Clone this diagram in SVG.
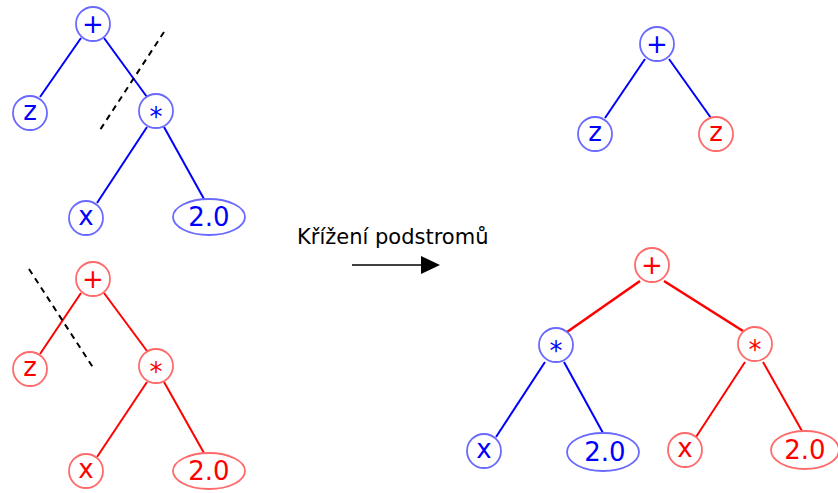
<svg xmlns="http://www.w3.org/2000/svg" width="838" height="493" viewBox="0 0 838 493">
  <style>
    .bn { fill: #ffffff; stroke: #6a6aff; stroke-width: 1.8; }
    .rn { fill: #ffffff; stroke: #ff6a6a; stroke-width: 1.8; }
    .bt { fill: #0000ff; font-family: "DejaVu Sans", Verdana, sans-serif; font-size: 26px; text-anchor: middle; }
    .rt { fill: #ff0000; font-family: "DejaVu Sans", Verdana, sans-serif; font-size: 26px; text-anchor: middle; }
    .be { stroke: #0000ff; stroke-width: 2; fill: none; }
    .re { stroke: #ff0000; stroke-width: 2; fill: none; }
    .cut { stroke: #000000; stroke-width: 2; stroke-dasharray: 6 5; fill: none; }
    .lbl { fill: #000000; font-family: "DejaVu Sans", Verdana, sans-serif; font-size: 21px; }
  </style>

  <g id="connectors">
    <!-- parent tree 1 -->
    <line class="be" x1="81" y1="38" x2="40" y2="97"/>
    <line class="be" x1="104" y1="38" x2="147" y2="97"/>
    <line class="be" x1="147" y1="127" x2="97" y2="203"/>
    <line class="be" x1="164" y1="127" x2="204" y2="199"/>
    <!-- parent tree 2 -->
    <line class="re" x1="81" y1="293" x2="40" y2="354"/>
    <line class="re" x1="104" y1="293" x2="147" y2="351"/>
    <line class="re" x1="147" y1="382" x2="97" y2="457"/>
    <line class="re" x1="164" y1="382" x2="204" y2="453"/>
    <!-- offspring 1 -->
    <line class="be" x1="645" y1="59" x2="605" y2="118"/>
    <line class="be" x1="669" y1="59" x2="711" y2="118"/>
    <!-- offspring 2 -->
    <line class="re" x1="640" y1="281" x2="567" y2="332" style="stroke-width:2.6"/>
    <line class="re" x1="664" y1="281" x2="743" y2="331" style="stroke-width:2.6"/>
    <line class="be" x1="545" y1="362" x2="496" y2="437"/>
    <line class="be" x1="564" y1="362" x2="603" y2="433"/>
    <line class="re" x1="745" y1="362" x2="696" y2="437"/>
    <line class="re" x1="763" y1="362" x2="802" y2="431"/>
    <!-- cut lines -->
    <line class="cut" x1="164" y1="32" x2="98" y2="133"/>
    <line class="cut" x1="29" y1="269" x2="94" y2="369"/>
    <!-- crossover arrow -->
    <line x1="352" y1="265" x2="424" y2="265" stroke="#000000" stroke-width="1.6"/>
    <polygon points="421,256 440,265 421,274" fill="#000000"/>
  </g>

  <text class="lbl" x="297" y="244">Křížení podstromů</text>

  <!-- parent tree 1 (blue) -->
  <g id="p1-plus"><circle class="bn" cx="93" cy="24" r="17"/><text class="bt" x="93" y="33">+</text></g>
  <g id="p1-z"><circle class="bn" cx="30" cy="113" r="17"/><text class="bt" x="30" y="120">z</text></g>
  <g id="p1-mul"><circle class="bn" cx="156" cy="111" r="17"/><text class="bt" x="156" y="126">*</text></g>
  <g id="p1-x"><circle class="bn" cx="86" cy="218" r="17"/><text class="bt" x="86" y="225">x</text></g>
  <g id="p1-num"><ellipse class="bn" cx="209" cy="217" rx="36" ry="18"/><text class="bt" x="209" y="226">2.0</text></g>

  <!-- parent tree 2 (red) -->
  <g id="p2-plus"><circle class="rn" cx="93" cy="279" r="17"/><text class="rt" x="93" y="288">+</text></g>
  <g id="p2-z"><circle class="rn" cx="30" cy="369" r="17"/><text class="rt" x="30" y="376">z</text></g>
  <g id="p2-mul"><circle class="rn" cx="156" cy="366" r="17"/><text class="rt" x="156" y="381">*</text></g>
  <g id="p2-x"><circle class="rn" cx="86" cy="471" r="17"/><text class="rt" x="86" y="478">x</text></g>
  <g id="p2-num"><ellipse class="rn" cx="209" cy="471" rx="36" ry="18"/><text class="rt" x="209" y="480">2.0</text></g>

  <!-- offspring 1 -->
  <g id="c1-plus"><circle class="bn" cx="657" cy="44" r="17"/><text class="bt" x="657" y="53">+</text></g>
  <g id="c1-z"><circle class="bn" cx="595" cy="134" r="17"/><text class="bt" x="595" y="141">z</text></g>
  <g id="c1-zr"><circle class="rn" cx="716" cy="134" r="17"/><text class="rt" x="716" y="141">z</text></g>

  <!-- offspring 2 -->
  <g id="c2-plus"><circle class="rn" cx="652" cy="265" r="17"/><text class="rt" x="652" y="274">+</text></g>
  <g id="c2-mul-b"><circle class="bn" cx="556" cy="345" r="17"/><text class="bt" x="556" y="360">*</text></g>
  <g id="c2-mul-r"><circle class="rn" cx="755" cy="344" r="17"/><text class="rt" x="755" y="359">*</text></g>
  <g id="c2-x-b"><circle class="bn" cx="484" cy="451" r="17"/><text class="bt" x="484" y="458">x</text></g>
  <g id="c2-num-b"><ellipse class="bn" cx="603" cy="452" rx="36" ry="19"/><text class="bt" x="605" y="461">2.0</text></g>
  <g id="c2-x-r"><circle class="rn" cx="685" cy="450" r="17"/><text class="rt" x="685" y="457">x</text></g>
  <g id="c2-num-r"><ellipse class="rn" cx="805" cy="450" rx="34" ry="19"/><text class="rt" x="805" y="459">2.0</text></g>
</svg>
